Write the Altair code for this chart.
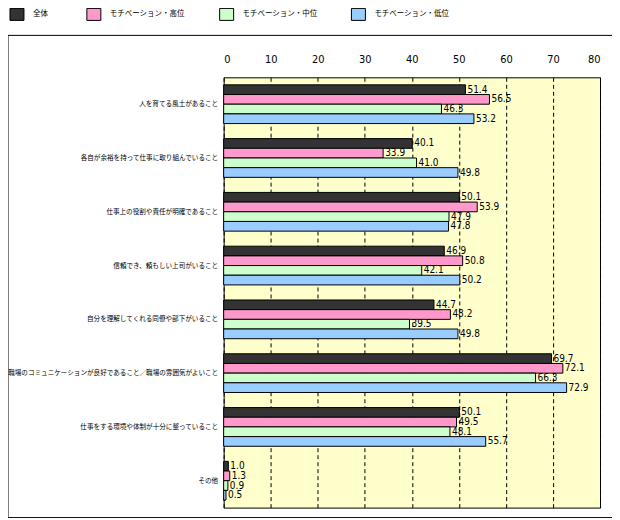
import altair as alt
import pandas as pd

categories = [
    "人を育てる風土があること",
    "各自が余裕を持って仕事に取り組んでいること",
    "仕事上の役割や責任が明確であること",
    "信頼でき、頼もしい上司がいること",
    "自分を理解してくれる同僚や部下がいること",
    "職場のコミュニケーションが良好であること／職場の雰囲気がよいこと",
    "仕事をする環境や体制が十分に整っていること",
    "その他",
]
series = ["全体", "モチベーション・高位", "モチベーション・中位", "モチベーション・低位"]
v_all = [51.4, 40.1, 50.1, 46.9, 44.7, 69.7, 50.1, 1.0]
v_high = [56.5, 33.9, 53.9, 50.8, 48.2, 72.1, 49.5, 1.3]
v_mid = [46.3, 41.0, 47.9, 42.1, 39.5, 66.3, 48.1, 0.9]
v_low = [53.2, 49.8, 47.8, 50.2, 49.8, 72.9, 55.7, 0.5]
x_ticks = [0, 10, 20, 30, 40, 50, 60, 70, 80]

colors = ["#333333", "#FF99CC", "#CCFFCC", "#99CCFF"]

rows = []
for i, c in enumerate(categories):
    for s, vals in zip(series, [v_all, v_high, v_mid, v_low]):
        rows.append({"cat": c, "series": s, "value": vals[i]})
df = pd.DataFrame(rows)

NARROW = "Liberation Sans Narrow, DejaVu Sans Condensed, Arial Narrow, sans-serif"
JP = "Noto Sans CJK JP"

W, H = 377, 431
OX, OY = 224, 77  # page position of plot origin

y_enc = alt.Y(
    "cat:N", sort=categories,
    scale=alt.Scale(paddingInner=0.28, paddingOuter=0.14),
    axis=alt.Axis(title=None, ticks=False, domain=False, labelFont=JP,
                  labelFontSize=6.6, labelPadding=6, labelLimit=0,
                  labelColor="black"),
)
yoff = alt.YOffset("series:N", sort=series,
                   scale=alt.Scale(paddingInner=0, paddingOuter=0))
x_enc = alt.X(
    "value:Q",
    scale=alt.Scale(domain=[0, 80], nice=False, zero=True),
    axis=alt.Axis(orient="top", values=x_ticks, title=None, grid=True,
                  gridDash=[4, 3], gridColor="black", gridOpacity=1,
                  gridWidth=1, ticks=False, domain=False, labelFont=NARROW,
                  labelFontSize=11, labelPadding=13, labelColor="black"),
)
color = alt.Color("series:N", sort=series,
                  scale=alt.Scale(domain=series, range=colors), legend=None)

bars = alt.Chart(df).mark_bar(stroke="black", strokeWidth=1).encode(
    x=x_enc, y=y_enc, yOffset=yoff, color=color
)
labels = alt.Chart(df).mark_text(
    align="left", baseline="middle", dx=2, font=NARROW, fontSize=10, color="black"
).encode(
    x="value:Q", y=alt.Y("cat:N", sort=categories), yOffset=alt.YOffset("series:N", sort=series),
    text=alt.Text("value:Q", format=".1f"),
)

one = pd.DataFrame({"a": [0]})
frame = alt.Chart(one).mark_rect(fill="transparent", stroke="black", strokeWidth=1).encode(
    x=alt.value(8 - OX), x2=alt.value(616 - OX),
    y=alt.value(35 - OY), y2=alt.value(518 - OY),
)

legend_swatch_x = [10, 87, 220, 352]
legend_text_x = [33, 110, 243, 375]
layers = [frame, bars, labels]
for s, col, sx, tx in zip(series, colors, legend_swatch_x, legend_text_x):
    sw = alt.Chart(one).mark_rect(fill=col, stroke="black", strokeWidth=1).encode(
        x=alt.value(sx - OX), x2=alt.value(sx + 14 - OX),
        y=alt.value(8 - OY), y2=alt.value(20 - OY),
    )
    tx_layer = alt.Chart(one).mark_text(
        align="left", baseline="middle", font=JP, fontSize=7.5, color="black", text=s
    ).encode(x=alt.value(tx - OX), y=alt.value(14 - OY))
    layers += [sw, tx_layer]

chart = alt.layer(*layers).properties(
    width=W, height=H,
    autosize=alt.AutoSizeParams(type="none"),
    padding={"left": OX - 8, "top": OY - 8, "right": 12, "bottom": 10},
).configure_view(fill="#FFFFCC", stroke="black", strokeWidth=1)

chart.save("out.html", embed_options={"renderer": "svg", "actions": False})
